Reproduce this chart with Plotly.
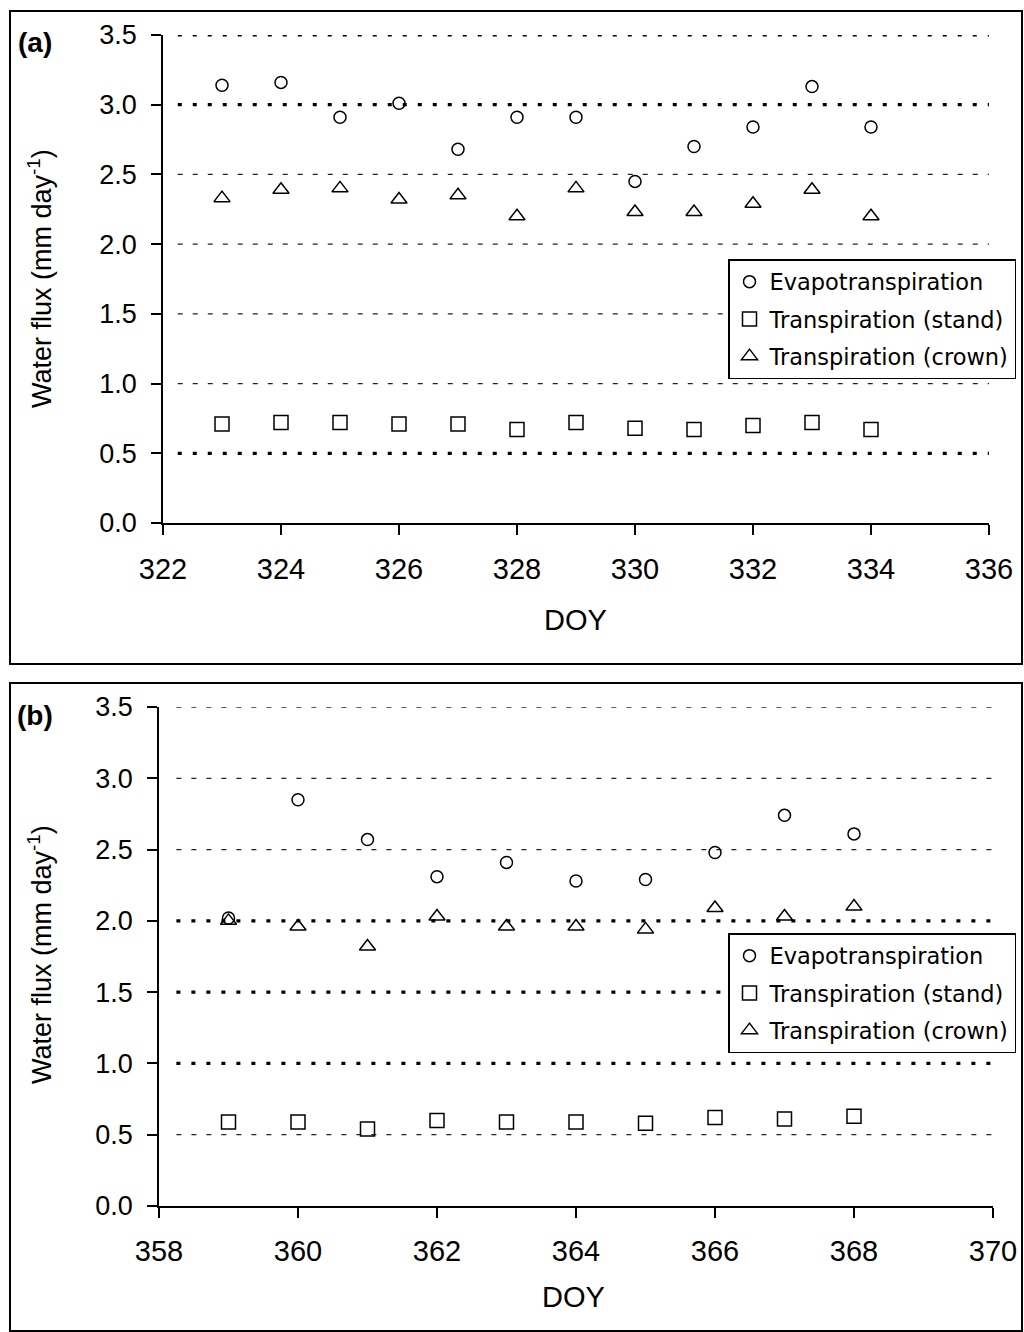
import plotly.graph_objects as go

# ---------------- data ----------------
doy_a = [323, 324, 325, 326, 327, 328, 329, 330, 331, 332, 333, 334]
et_a = [3.14, 3.16, 2.91, 3.01, 2.68, 2.91, 2.91, 2.45, 2.70, 2.84, 3.13, 2.84]
ts_a = [0.71, 0.72, 0.72, 0.71, 0.71, 0.67, 0.72, 0.68, 0.67, 0.70, 0.72, 0.67]
tc_a = [2.33, 2.39, 2.40, 2.32, 2.35, 2.20, 2.40, 2.23, 2.23, 2.29, 2.39, 2.20]

doy_b = [359, 360, 361, 362, 363, 364, 365, 366, 367, 368]
et_b = [2.02, 2.85, 2.57, 2.31, 2.41, 2.28, 2.29, 2.48, 2.74, 2.61]
ts_b = [0.59, 0.59, 0.54, 0.60, 0.59, 0.59, 0.58, 0.62, 0.61, 0.63]
tc_b = [2.00, 1.96, 1.82, 2.03, 1.96, 1.96, 1.94, 2.09, 2.03, 2.10]

y_ticks = [0.5, 1.0, 1.5, 2.0, 2.5, 3.0, 3.5]
bold_a = [0.5, 3.0, 3.5]
bold_b = [1.0, 1.5, 2.0]

x_ticks_a = [322, 324, 326, 328, 330, 332, 334, 336]
x_ticks_b = [358, 360, 362, 364, 366, 368, 370]

names = ["Evapotranspiration", "Transpiration (stand)", "Transpiration (crown)"]
symbols = ["circle-open", "square-open", "triangle-up-open"]
sizes = [12, 14, 14]

W, H = 1024, 1332
FONT = "Liberation Sans, Arial, sans-serif"
LFONT = "DejaVu Sans, sans-serif"

def px_x(p):
    return p / W

def px_y(p):
    return 1 - p / H

fig = go.Figure()

series = [
    ("x", "y", "legend", "a", doy_a, [et_a, ts_a, tc_a]),
    ("x2", "y2", "legend2", "b", doy_b, [et_b, ts_b, tc_b]),
]
for xa, ya, lg, tag, xs, ys_list in series:
    for i, (name, sym, sz, ys) in enumerate(zip(names, symbols, sizes, ys_list)):
        fig.add_trace(go.Scatter(
            x=xs, y=ys, mode="markers", name=name, xaxis=xa, yaxis=ya, legend=lg,
            legendgroup=f"{tag}{i}",
            marker=dict(symbol=sym, size=sz, color="black", line=dict(width=1.5, color="black")),
        ))

shapes = []
def add_grid(xref, yref, x0, x1, bold):
    for t in y_ticks:
        if t in bold:
            line = dict(color="black", width=3.2, dash="4px,11px")
        else:
            line = dict(color="#222", width=1.3, dash="5px,10px")
        shapes.append(dict(type="line", xref=xref, yref=yref, x0=x0, x1=x1, y0=t, y1=t,
                           line=line, layer="below"))

add_grid("x", "y", 322.25, 336, bold_a)
add_grid("x2", "y2", 358.25, 370, bold_b)

# panel frames
shapes.append(dict(type="rect", xref="paper", yref="paper", x0=px_x(10), x1=px_x(1022),
                   y0=px_y(664), y1=px_y(11), line=dict(color="black", width=2)))
shapes.append(dict(type="rect", xref="paper", yref="paper", x0=px_x(10), x1=px_x(1022),
                   y0=px_y(1331), y1=px_y(683), line=dict(color="black", width=2)))

axis_common = dict(
    showgrid=False, zeroline=False, showline=True, linecolor="black", linewidth=1.5,
    ticks="outside", ticklen=10, tickwidth=1.5, tickcolor="black", automargin=False,
    tickfont=dict(family=FONT, size=29, color="black"),
)
yfont = dict(family=FONT, size=27, color="black")

legend_common = dict(
    xanchor="left", yanchor="top", bgcolor="white", bordercolor="black", borderwidth=1.5,
    font=dict(family=LFONT, size=22.5, color="black"), itemwidth=30, tracegroupgap=5,
)

def ann(text, x, y, size, bold=False, angle=0):
    return dict(text=f"<b>{text}</b>" if bold else text, x=px_x(x), y=px_y(y),
                xref="paper", yref="paper", xanchor="center", yanchor="middle",
                textangle=angle, showarrow=False,
                font=dict(family=FONT, size=size, color="black"))

fig.update_layout(
    width=W, height=H, margin=dict(l=0, r=0, t=0, b=0, autoexpand=False),
    paper_bgcolor="white", plot_bgcolor="white",
    showlegend=True,
    shapes=shapes,
    xaxis=dict(domain=[px_x(163), px_x(989)], range=[322, 336], tickvals=x_ticks_a,
               anchor="y", ticklabelstandoff=9, **axis_common),
    yaxis=dict(domain=[px_y(523), px_y(35)], range=[0, 3.5], tickvals=[0] + y_ticks,
               tickformat=".1f", anchor="x", ticklabelstandoff=9,
               **{**axis_common, "tickfont": yfont}),
    xaxis2=dict(domain=[px_x(159), px_x(993)], range=[358, 370], tickvals=x_ticks_b,
                anchor="y2", ticklabelstandoff=8, **axis_common),
    yaxis2=dict(domain=[px_y(1206), px_y(707)], range=[0, 3.5], tickvals=[0] + y_ticks,
                tickformat=".1f", anchor="x2", ticklabelstandoff=9,
                **{**axis_common, "tickfont": yfont}),
    legend=dict(x=px_x(728), y=px_y(259), **legend_common),
    legend2=dict(x=px_x(728), y=px_y(933), **legend_common),
    annotations=[
        ann("(a)", 35, 43, 28, bold=True),
        ann("(b)", 35, 715, 28, bold=True),
        ann("DOY", 575, 620, 29),
        ann("DOY", 573, 1297, 29),
        ann("Water flux (mm day<sup>-1</sup>)", 40, 279, 27, angle=-90),
        ann("Water flux (mm day<sup>-1</sup>)", 40, 955, 27, angle=-90),
    ],
)

fig.write_html("out.html")
